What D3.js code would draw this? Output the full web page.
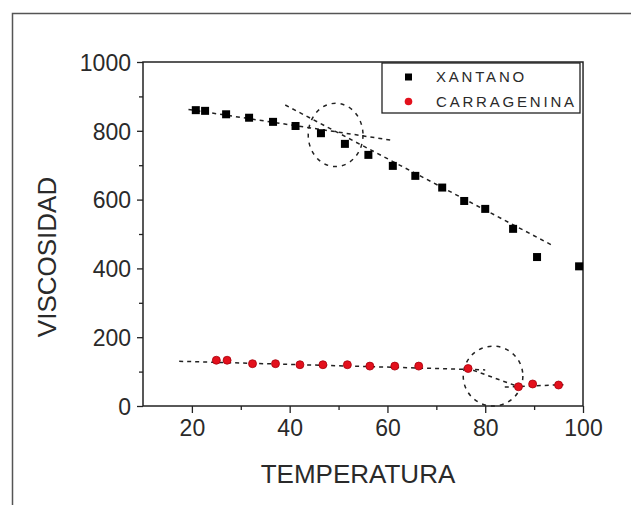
<html>

<head>
    <script src="https://d3js.org/d3.v7.min.js"></script>
    <style>
        body { margin: 0; background: #fff; }
        text { font-family: "Liberation Sans", Arial, sans-serif; fill: #2a2a2a; }
    </style>
</head>

<body>
    <svg id="chartArea" width="631" height="505"></svg>
    <script>
        // measured points
        const xantanoTemp = [20.8, 22.7, 27.0, 31.7, 36.6, 41.2, 46.4, 51.3, 56.1, 61.1, 65.7, 71.2, 75.7, 80.0, 85.7, 90.6, 99.2];
        const xantanoVisc = [860, 858, 848, 838, 826, 814, 793, 762, 730, 698, 669, 635, 596, 573, 515, 433, 406];
        const carrTemp = [25.0, 27.2, 32.4, 37.1, 42.1, 46.8, 51.8, 56.4, 61.5, 66.4, 76.5, 86.8, 89.7, 95.0];
        const carrVisc = [133, 133, 123, 123, 120, 120, 120, 116, 116, 116, 109, 56, 64, 61];

        // hand-drawn trend lines: [temp start, temp end], [visc start, visc end]
        const trendTemp = [[19.3, 60.7], [39.1, 93.6], [17.4, 80], [76, 87], [84, 96]];
        const trendVisc = [[862, 773], [875, 468], [130, 105], [112, 55], [55, 62]];

        // break-point rings: centre temp, centre visc, half width (temp), half height (visc)
        const ringTemp = [49.4, 81.6];
        const ringVisc = [788, 87];
        const ringHalfTemp = [5.6, 6.1];
        const ringHalfVisc = [92, 87];

        const xTicks = [20, 40, 60, 80, 100];
        const yTicks = [0, 200, 400, 600, 800, 1000];
        const seriesNames = ["XANTANO", "CARRAGENINA"];

        const svg = d3.select("#chartArea");
        const margins = { top: 62, right: 48, bottom: 99, left: 143 };
        const width = +svg.attr("width");
        const height = +svg.attr("height");
        const chartWidth = width - margins.left - margins.right;
        const chartHeight = height - margins.top - margins.bottom;

        svg.append("rect").attr("width", width).attr("height", height).attr("fill", "#fff");

        // outer frame
        svg.append("path")
            .attr("d", `M12.5,${height} V13.5 H${width}`)
            .attr("fill", "none")
            .attr("stroke", "#555")
            .attr("stroke-width", 1.5);

        const chart = svg.append("g")
            .attr("transform", `translate(${margins.left},${margins.top})`);

        const x = d3.scaleLinear().domain([10, 100]).range([0, chartWidth]);
        const y = d3.scaleLinear().domain([0, 1000]).range([chartHeight, 0]);

        // minor ticks
        chart.append("g")
            .attr("transform", `translate(0,${chartHeight})`)
            .call(d3.axisBottom(x).tickValues([30, 50, 70, 90]).tickSize(4).tickFormat(""))
            .call(g => g.select(".domain").remove());
        chart.append("g")
            .call(d3.axisLeft(y).tickValues([100, 300, 500, 700, 900]).tickSize(4).tickFormat(""))
            .call(g => g.select(".domain").remove());

        // major ticks and labels
        const bottomAxis = chart.append("g")
            .attr("transform", `translate(0,${chartHeight})`)
            .call(d3.axisBottom(x).tickValues(xTicks).tickFormat(d3.format("d"))
                .tickSize(7).tickPadding(6).tickSizeOuter(0));
        bottomAxis.selectAll("text").attr("font-size", 23).attr("dy", "0.72em");

        const leftAxis = chart.append("g")
            .call(d3.axisLeft(y).tickValues(yTicks).tickFormat(d3.format("d"))
                .tickSize(6).tickPadding(6).tickSizeOuter(0));
        leftAxis.selectAll("text").attr("font-size", 23).attr("dy", "0.36em");

        chart.selectAll(".tick line").attr("stroke", "#222").attr("stroke-width", 1.3);
        chart.selectAll(".domain").remove();

        // plot frame
        chart.append("rect")
            .attr("width", chartWidth)
            .attr("height", chartHeight)
            .attr("fill", "none")
            .attr("stroke", "#222")
            .attr("stroke-width", 1.5);

        // trend lines
        const lineGenerator = d3.line()
            .x(d => x(d[0]))
            .y(d => y(d[1]));

        chart.selectAll(".trend")
            .data(trendTemp.map((t, i) => [[t[0], trendVisc[i][0]], [t[1], trendVisc[i][1]]]))
            .join("path")
            .attr("class", "trend")
            .attr("d", lineGenerator)
            .attr("fill", "none")
            .attr("stroke", "#222")
            .attr("stroke-width", 1.5)
            .attr("stroke-dasharray", "4,4");

        // dashed rings
        chart.selectAll(".ring")
            .data(ringTemp)
            .join("ellipse")
            .attr("class", "ring")
            .attr("cx", d => x(d))
            .attr("cy", (d, i) => y(ringVisc[i]))
            .attr("rx", (d, i) => x(d + ringHalfTemp[i]) - x(d))
            .attr("ry", (d, i) => y(ringVisc[i] - ringHalfVisc[i]) - y(ringVisc[i]))
            .attr("fill", "none")
            .attr("stroke", "#222")
            .attr("stroke-width", 1.5)
            .attr("stroke-dasharray", "4,5");

        // xantano squares
        chart.selectAll(".xan")
            .data(xantanoTemp)
            .join("rect")
            .attr("class", "xan")
            .attr("x", d => x(d) - 4)
            .attr("y", (d, i) => y(xantanoVisc[i]) - 4)
            .attr("width", 8)
            .attr("height", 8)
            .attr("fill", "#000");

        // carragenina circles
        chart.selectAll(".car")
            .data(carrTemp)
            .join("circle")
            .attr("class", "car")
            .attr("cx", d => x(d))
            .attr("cy", (d, i) => y(carrVisc[i]))
            .attr("r", 4)
            .attr("fill", "#e3101c")
            .attr("stroke", "#a8000c")
            .attr("stroke-width", 0.8);

        // legend
        const legend = svg.append("g").attr("transform", "translate(382,63)");
        legend.append("rect")
            .attr("width", 198)
            .attr("height", 50)
            .attr("fill", "#fff")
            .attr("stroke", "#222")
            .attr("stroke-width", 1.3);
        legend.append("line")
            .attr("x1", 200.5).attr("x2", 200.5)
            .attr("y1", 1).attr("y2", 50)
            .attr("stroke", "#666").attr("stroke-width", 1);

        const rows = legend.selectAll(".row")
            .data(seriesNames)
            .join("g")
            .attr("class", "row")
            .attr("transform", (d, i) => `translate(0,${14 + i * 24.5})`);
        rows.filter((d, i) => i === 0).append("rect")
            .attr("x", 23).attr("y", -3.5).attr("width", 7).attr("height", 7).attr("fill", "#000");
        rows.filter((d, i) => i === 1).append("circle")
            .attr("cx", 26.5).attr("cy", 0).attr("r", 3.8).attr("fill", "#e3101c");
        rows.append("text")
            .attr("x", 54)
            .attr("dy", "0.36em")
            .attr("font-size", 15)
            .attr("letter-spacing", 2.8)
            .text(d => d);

        // axis titles
        svg.append("text")
            .attr("x", 358)
            .attr("y", 483)
            .attr("text-anchor", "middle")
            .attr("font-size", 26)
            .text("TEMPERATURA");

        svg.append("text")
            .attr("transform", "translate(56,257) rotate(-90)")
            .attr("text-anchor", "middle")
            .attr("font-size", 26)
            .text("VISCOSIDAD");
    </script>
</body>

</html>
